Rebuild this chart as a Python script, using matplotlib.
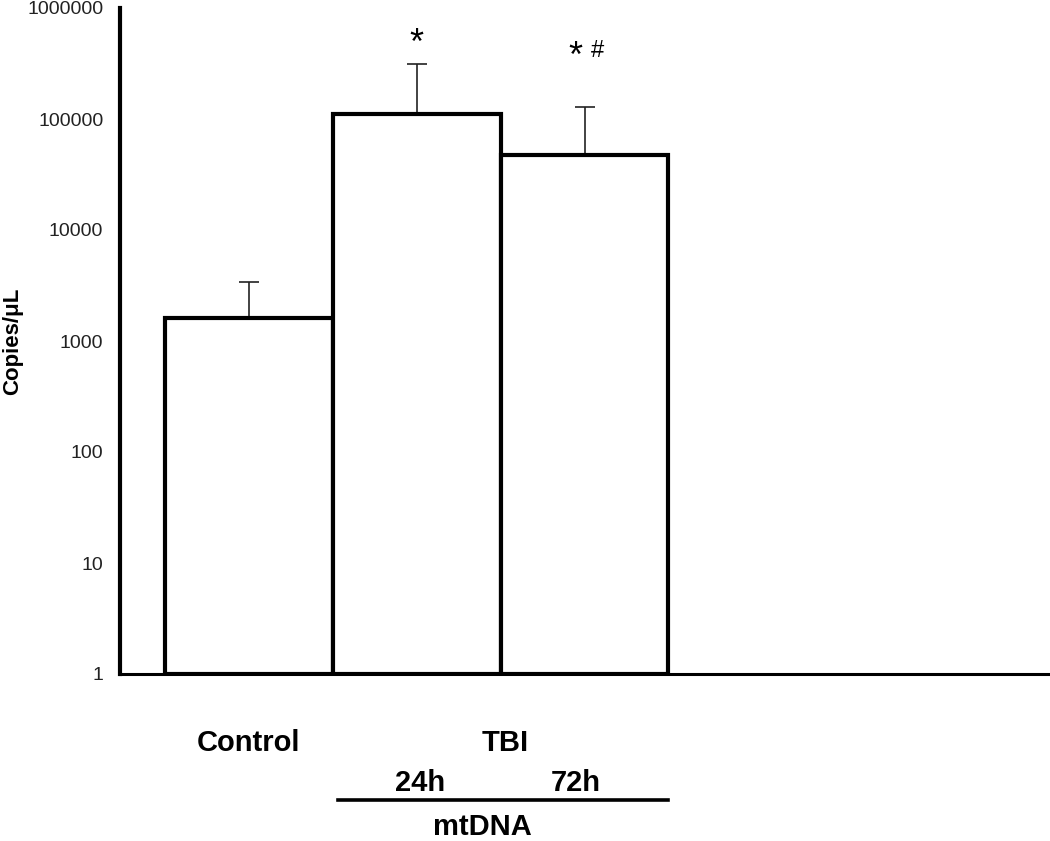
import matplotlib
matplotlib.use("Agg")
import matplotlib.pyplot as plt
import matplotlib.transforms as mtransforms
import numpy as np

plt.rcParams['font.family'] = ['Liberation Sans', 'DejaVu Sans']

# data
groups = ["Control", "TBI 24h", "TBI 72h"]
means = [1600, 110000, 47500]
upper = [3400, 315000, 127000]
yticks = [1, 10, 100, 1000, 10000, 100000, 1000000]
ytick_labels = ["1", "10", "100", "1000", "10000", "100000", "1000000"]


def create_figure():
    fig = plt.figure(figsize=(10.5, 8.41), dpi=100)
    ax = fig.add_axes([120 / 1050, 1 - 674 / 841, 928 / 1050, 666 / 841])
    ax.set_yscale('log')
    ax.set_ylim(1, 1e6)
    ax.set_xlim(-0.768, 4.762)

    ax.spines['right'].set_color('none')
    ax.spines['top'].set_color('none')
    ax.spines['left'].set_linewidth(3.0)
    ax.spines['bottom'].set_linewidth(2.2)

    ax.set_xticks([])
    ax.set_yticks(yticks)
    ax.set_yticklabels(ytick_labels)
    ax.yaxis.set_minor_locator(matplotlib.ticker.NullLocator())
    ax.tick_params(axis='y', length=0, pad=12, labelsize=14, colors='#222222')
    return fig, ax


def main():
    fig, ax = create_figure()
    x = np.arange(len(groups))
    vals = np.array(means, dtype=float)
    ups = np.array(upper, dtype=float)

    # error bars (upper only), drawn under the bars' top edges
    ax.errorbar(x, vals, yerr=[np.zeros_like(vals), ups - vals], fmt='none',
                ecolor='#222222', elinewidth=1.2, capsize=7, capthick=1.2, zorder=1)
    ax.bar(x, vals - 1, bottom=1, width=1.0, color='white', edgecolor='black',
           linewidth=3.0, zorder=2)

    # significance marks
    ax.annotate("*", xy=(x[1], ups[1]), xytext=(0, 1.5), textcoords='offset points',
                ha='center', va='bottom', fontsize=26)
    ax.annotate("*", xy=(x[2], ups[2]), xytext=(-6.5, 23.5), textcoords='offset points',
                ha='center', va='bottom', fontsize=26)
    ax.annotate("#", xy=(x[2], ups[2]), xytext=(9.4, 32.5), textcoords='offset points',
                ha='center', va='bottom', fontsize=17)

    # group labels under the axis
    trans = mtransforms.blended_transform_factory(ax.transData, ax.transAxes)
    lab = dict(transform=trans, ha='center', va='center', fontsize=21,
               fontweight='bold', clip_on=False)
    ax.text(x[0], -0.104, "Control", **lab)
    ax.text(1.53, -0.104, "TBI", **lab)
    ax.text(x[1] + 0.02, -0.163, "24h", **lab)
    ax.text(x[2] - 0.05, -0.163, "72h", **lab)
    ax.plot([0.53, 2.5], [-0.189, -0.189], color='black', lw=2.6,
            transform=trans, clip_on=False)
    ax.text(1.39, -0.229, "mtDNA", **lab)

    fig.text(13 / 1050, 1 - 341 / 841, "Copies/μL", rotation=90, ha='center',
             va='center', fontsize=16, fontweight='bold')

    fig.savefig("out.png", dpi=100)


if __name__ == "__main__":
    main()
